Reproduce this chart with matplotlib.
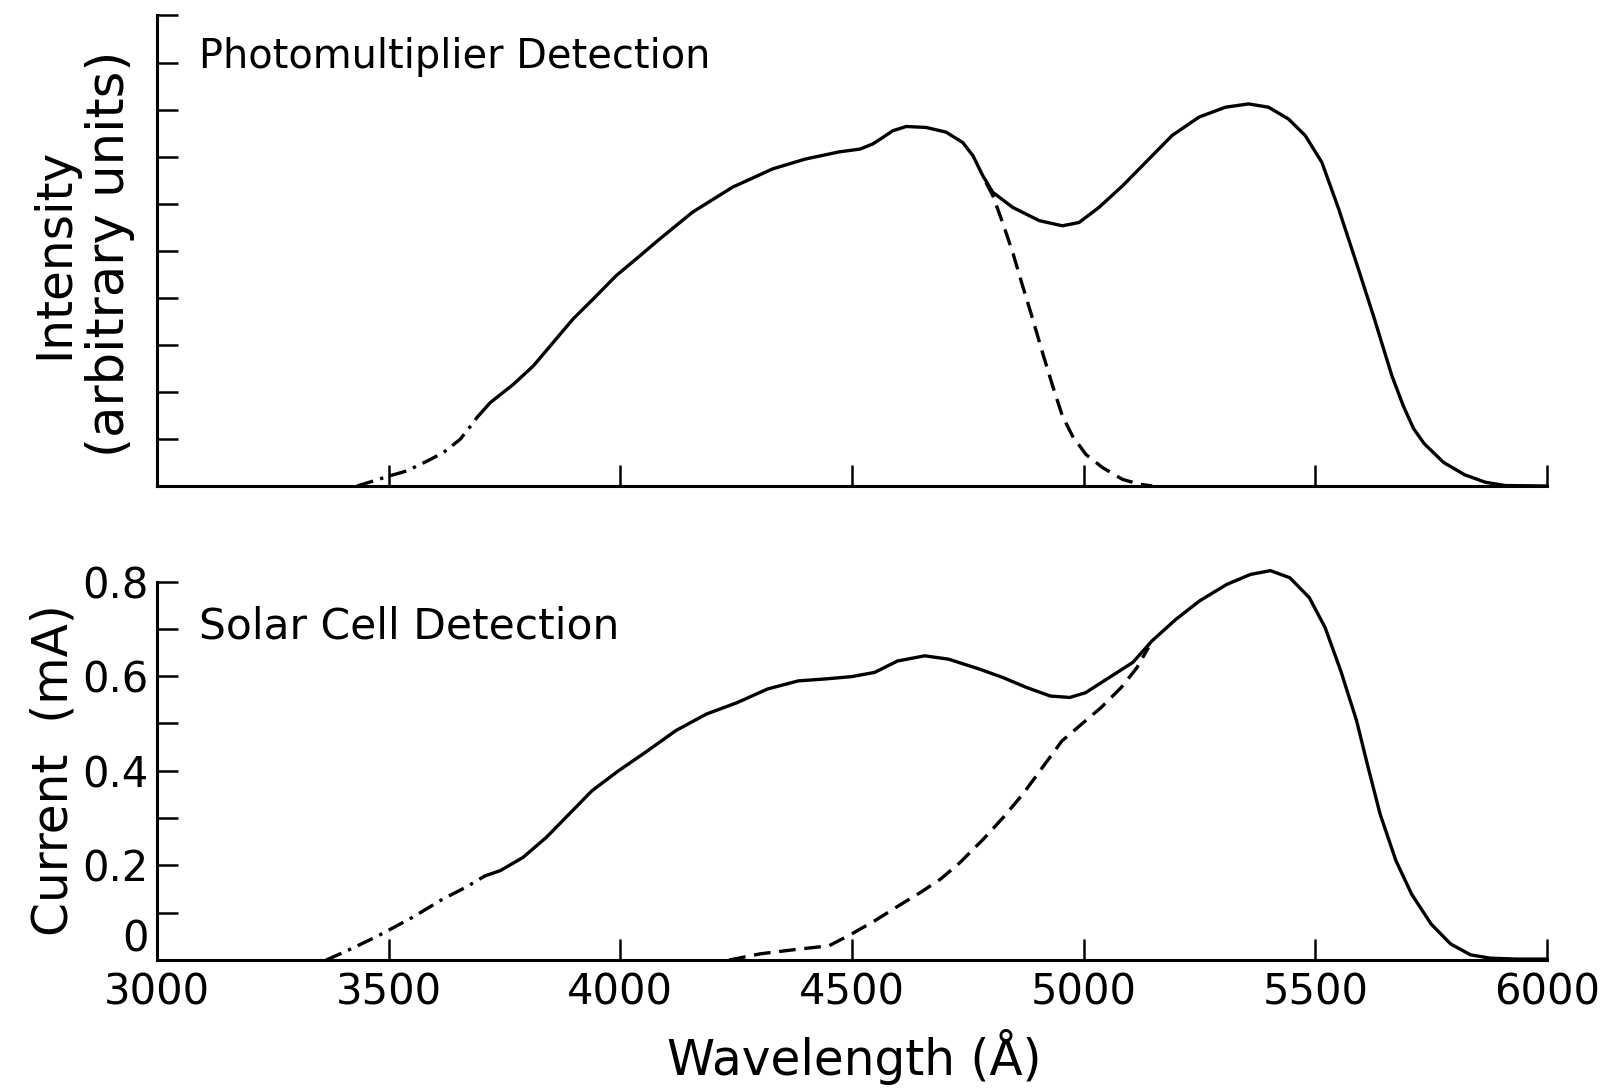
import matplotlib
matplotlib.use('Agg')
import matplotlib.pyplot as plt
from matplotlib.ticker import MultipleLocator

# ---- photomultiplier panel (arbitrary units, 10 tick steps) ----
pm_dashdot_wl = [3432, 3468, 3500, 3539, 3583, 3618, 3654, 3683, 3690]
pm_dashdot_val = [0.0, 0.11, 0.21, 0.32, 0.53, 0.71, 0.99, 1.35, 1.45]

pm_solid_wl = [3690, 3719, 3769, 3812, 3855, 3898, 3941, 3991, 4042, 4085, 4156, 4242,
               4329, 4400, 4472, 4517, 4545, 4567, 4588, 4617, 4660, 4703, 4739, 4761,
               4782, 4804, 4847, 4904, 4954, 4990, 5033, 5084, 5134, 5191, 5249, 5306,
               5356, 5399, 5442, 5478, 5514, 5550, 5590, 5626, 5665, 5690, 5712, 5735,
               5777, 5822, 5867, 5910, 6000]
pm_solid_val = [1.45, 1.77, 2.16, 2.55, 3.05, 3.55, 3.97, 4.47, 4.89, 5.25, 5.82, 6.35,
                6.74, 6.95, 7.10, 7.16, 7.27, 7.41, 7.55, 7.64, 7.62, 7.52, 7.30, 7.02,
                6.60, 6.24, 5.92, 5.64, 5.53, 5.60, 5.92, 6.38, 6.88, 7.45, 7.84, 8.05,
                8.12, 8.05, 7.80, 7.45, 6.88, 5.90, 4.70, 3.60, 2.35, 1.70, 1.22, 0.90,
                0.50, 0.24, 0.08, 0.01, 0.0]

pm_dashed_wl = [4789, 4804, 4825, 4847, 4868, 4890, 4911, 4933, 4954, 4976, 5005, 5041,
                5084, 5120, 5148]
pm_dashed_val = [6.45, 6.17, 5.60, 4.96, 4.26, 3.55, 2.84, 2.13, 1.49, 1.06, 0.67, 0.39,
                 0.14, 0.04, 0.0]

# ---- solar cell panel (mA) ----
sc_dashdot_wl = [3365, 3411, 3477, 3551, 3617, 3667, 3708]
sc_dashdot_val = [0.0, 0.020, 0.051, 0.090, 0.129, 0.154, 0.178]

sc_solid_wl = [3708, 3741, 3790, 3840, 3889, 3939, 3996, 4054, 4120, 4186, 4252, 4318,
               4384, 4441, 4499, 4549, 4598, 4657, 4708, 4775, 4826, 4877, 4928, 4970,
               5004, 5055, 5106, 5148, 5199, 5250, 5309, 5360, 5403, 5445, 5487, 5521,
               5555, 5589, 5614, 5640, 5674, 5708, 5750, 5792, 5835, 5877, 5935, 6000]
sc_solid_val = [0.178, 0.189, 0.217, 0.259, 0.308, 0.358, 0.400, 0.439, 0.485, 0.520, 0.544, 0.573,
                0.590, 0.594, 0.599, 0.608, 0.632, 0.643, 0.636, 0.615, 0.597, 0.576, 0.558, 0.555,
                0.565, 0.597, 0.629, 0.675, 0.720, 0.759, 0.794, 0.815, 0.823, 0.808, 0.766, 0.703,
                0.611, 0.506, 0.407, 0.308, 0.210, 0.139, 0.076, 0.034, 0.011, 0.004, 0.002, 0.002]

sc_dashed_wl = [4235, 4301, 4384, 4450, 4499, 4549, 4606, 4648, 4691, 4733, 4784, 4826,
                4869, 4911, 4953, 4996, 5038, 5081, 5115, 5140]
sc_dashed_val = [0.0, 0.013, 0.023, 0.030, 0.055, 0.083, 0.118, 0.143, 0.171, 0.206, 0.256, 0.301,
                 0.351, 0.407, 0.463, 0.499, 0.534, 0.576, 0.618, 0.661]

x_ticks = [3000, 3500, 4000, 4500, 5000, 5500, 6000]
sc_ticks = [0, 0.2, 0.4, 0.6, 0.8]
sc_tick_labels = ['0', '0.2', '0.4', '0.6', '0.8']

plt.rcParams['font.family'] = ['DejaVu Sans']
LW = 2.4
DASHDOT = (0, (5, 2.2, 1, 2.2))
DASHED = (0, (5, 2.6))

fig = plt.figure(figsize=(16.17, 10.88), dpi=100)
ax_top = fig.add_axes([0.0971, 0.5533, 0.8596, 0.4325])
ax_bot = fig.add_axes([0.0971, 0.1176, 0.8596, 0.3479])


def style_axes(ax):
    for side in ['top', 'right']:
        ax.spines[side].set_visible(False)
    for side in ['left', 'bottom']:
        ax.spines[side].set_linewidth(2.2)
    ax.set_xlim(3000, 6000)
    ax.set_xticks(x_ticks)
    ax.tick_params(axis='both', which='both', direction='in', length=15, width=1.8,
                   labelsize=30, pad=6)


def draw(ax, wl, val, **kw):
    ax.plot(wl, val, color='black', lw=LW, clip_on=False,
            solid_joinstyle='round', solid_capstyle='round', **kw)


style_axes(ax_top)
ax_top.set_ylim(0, 10)
ax_top.yaxis.set_major_locator(MultipleLocator(1))
ax_top.set_yticklabels([])
ax_top.set_xticklabels([])
draw(ax_top, pm_dashdot_wl, pm_dashdot_val, linestyle=DASHDOT)
draw(ax_top, pm_solid_wl, pm_solid_val)
draw(ax_top, pm_dashed_wl, pm_dashed_val, linestyle=DASHED)
ax_top.text(3090, 9.12, 'Photomultiplier Detection', fontsize=28.7, va='center', ha='left')

style_axes(ax_bot)
ax_bot.set_ylim(0, 0.8)
ax_bot.set_yticks(sc_ticks)
ax_bot.set_yticklabels(sc_tick_labels)
ax_bot.yaxis.set_minor_locator(MultipleLocator(0.1))
ax_bot.tick_params(axis='x', pad=8)
ax_bot.get_yticklabels()[0].set_va('bottom')
draw(ax_bot, sc_dashdot_wl, sc_dashdot_val, linestyle=DASHDOT)
draw(ax_bot, sc_solid_wl, sc_solid_val)
draw(ax_bot, sc_dashed_wl, sc_dashed_val, linestyle=DASHED)
ax_bot.text(3090, 0.706, 'Solar Cell Detection', fontsize=30.5, va='center', ha='left')

fig.text(0.0333, 0.767, 'Intensity', rotation=90, fontsize=35, ha='center', va='center')
fig.text(0.068, 0.767, '(arbitrary units)', rotation=90, fontsize=37, ha='center', va='center')
fig.text(0.0333, 0.2923, 'Current  (mA)', rotation=90, fontsize=35, ha='center', va='center')
fig.text(0.528, 0.0285, 'Wavelength (Å)', fontsize=35, ha='center', va='center')

fig.savefig('out.png', dpi=100, facecolor='white')
